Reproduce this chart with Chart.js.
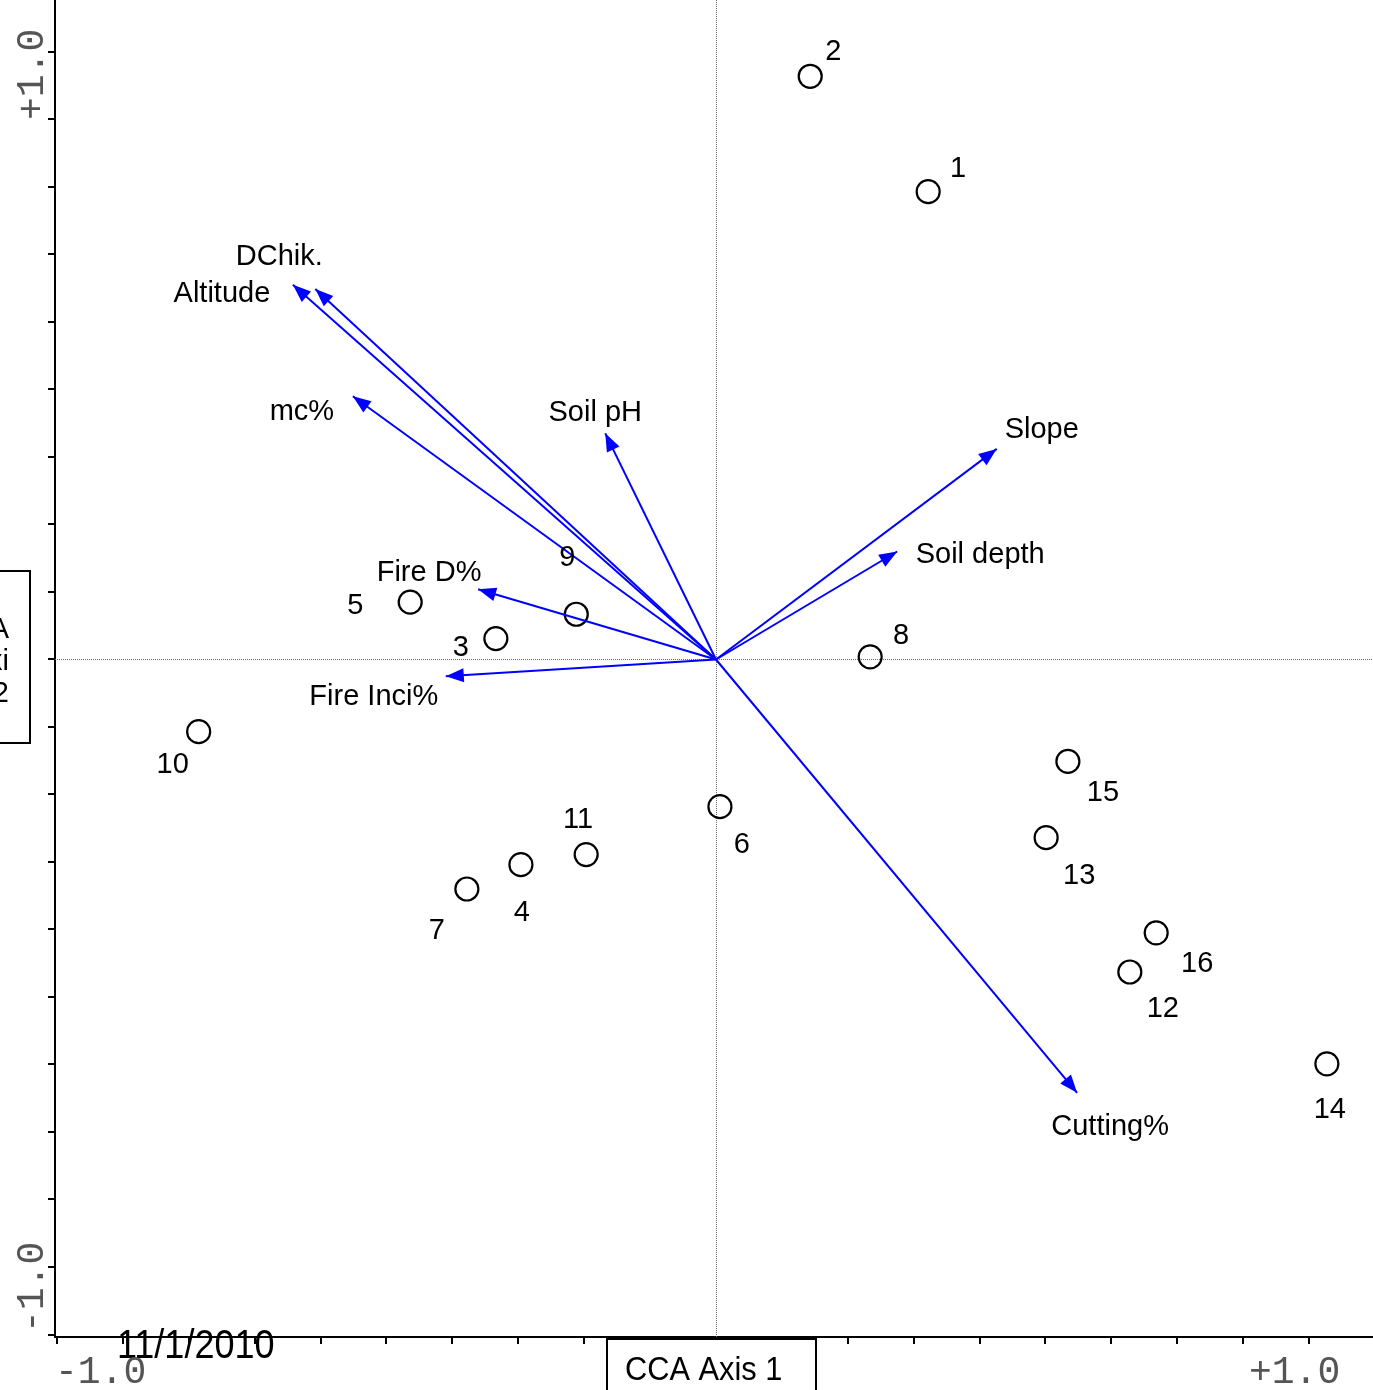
<!DOCTYPE html>
<html>
<head>
<meta charset="utf-8">
<script src="https://cdn.jsdelivr.net/npm/chart.js@4.4.0/dist/chart.umd.min.js"></script>
<style>
  html, body { margin: 0; padding: 0; background: #fff; }
  #wrap { width: 1373px; height: 1390px; position: relative; }
</style>
</head>
<body>
<div id="wrap"><canvas id="c"></canvas></div>
<script>
// ---- Data ----
const siteLabels = ['1','2','3','4','5','6','7','8','9','10','11','12','13','14','15','16'];
const siteX = [0.322, 0.143, -0.334, -0.296, -0.464, 0.006, -0.378, 0.234, -0.212, -0.785, -0.197, 0.628, 0.501, 0.927, 0.534, 0.668];
const siteY = [0.693, 0.864, 0.031, -0.304, 0.085, -0.218, -0.340, 0.004, 0.067, -0.107, -0.289, -0.463, -0.264, -0.599, -0.151, -0.405];

const envNames = ['Altitude', 'DChik.', 'mc%', 'Soil pH', 'Slope', 'Soil depth', 'Fire D%', 'Fire Inci%', 'Cutting%'];
const envX = [-0.642, -0.608, -0.551, -0.168, 0.426, 0.275, -0.361, -0.410, 0.548];
const envY = [0.555, 0.549, 0.390, 0.335, 0.312, 0.160, 0.104, -0.025, -0.642];

const tickValues = [-1.0, -0.9, -0.8, -0.7, -0.6, -0.5, -0.4, -0.3, -0.2, -0.1, 0, 0.1, 0.2, 0.3, 0.4, 0.5, 0.6, 0.7, 0.8, 0.9, 1.0];
const axisTitleX = 'CCA Axis 1';
const axisTitleY = ['CCA', 'Axi', 's 2'];
const axisEndLabels = ['-1.0', '+1.0'];
const dateText = '11/1/2010';

// ---- Layout (label placement, pixels) ----
const siteLabelOffset = [[30,-23],[23,-24],[-35,9],[1,48],[-55,4],[22,38],[-30,42],[31,-21],[-9,-56],[-26,33],[-8,-35],[33,37],[33,38],[3,46],[35,32],[41,31]];
const envLabelOffset = [[-71,9],[-36,-32],[-51,16],[-10,-20],[45,-19],[83,4],[-49,-16],[-72,21],[33,34]];

const X_MIN = -1.003, X_MAX = 0.997;
const Y_MIN = -1.0037, Y_MAX = 0.977;
const BLUE = '#0000ff';

const datasets = [];
envNames.forEach((n, i) => {
  datasets.push({
    type: 'line',
    label: n,
    data: [{x: 0, y: 0}, {x: envX[i], y: envY[i]}],
    borderColor: BLUE,
    borderWidth: 2,
    pointRadius: 0,
    fill: false,
    tension: 0
  });
});
datasets.push({
  type: 'scatter',
  label: 'sites',
  data: siteX.map((x, i) => ({x: x, y: siteY[i]})),
  pointRadius: 11.5,
  pointHoverRadius: 11.5,
  borderColor: '#000',
  borderWidth: 2.2,
  backgroundColor: 'rgba(0,0,0,0)'
});

function setTicks(scale) {
  scale.ticks = tickValues.filter(v => v >= scale.min && v <= scale.max).map(v => ({value: v}));
}

const overlay = {
  id: 'overlay',
  beforeDatasetsDraw(chart) {
    const {ctx, chartArea: a, scales: {x, y}} = chart;
    const x0 = Math.round(x.getPixelForValue(0)) + 0.5;
    const y0 = Math.round(y.getPixelForValue(0)) + 0.5;
    ctx.save();
    ctx.strokeStyle = '#666';
    ctx.lineWidth = 1;
    ctx.setLineDash([1, 1]);
    ctx.beginPath();
    ctx.moveTo(x0, a.top); ctx.lineTo(x0, a.bottom);
    ctx.moveTo(a.left, y0); ctx.lineTo(a.right, y0);
    ctx.stroke();
    ctx.restore();
    // tick marks (from the library's ticks)
    ctx.save();
    ctx.strokeStyle = '#000';
    ctx.lineWidth = 2;
    ctx.beginPath();
    x.ticks.forEach(t => {
      const px = Math.round(x.getPixelForValue(t.value));
      ctx.moveTo(px, a.bottom); ctx.lineTo(px, a.bottom + 7);
    });
    y.ticks.forEach(t => {
      const py = Math.round(y.getPixelForValue(t.value));
      ctx.moveTo(a.left, py); ctx.lineTo(a.left - 7, py);
    });
    ctx.stroke();
    ctx.restore();
  },
  afterDatasetsDraw(chart) {
    const {ctx, scales: {x, y}} = chart;
    const ox = x.getPixelForValue(0), oy = y.getPixelForValue(0);
    ctx.save();
    // arrow heads
    ctx.fillStyle = BLUE;
    envNames.forEach((n, i) => {
      const tx = x.getPixelForValue(envX[i]), ty = y.getPixelForValue(envY[i]);
      const ang = Math.atan2(ty - oy, tx - ox);
      const L = 18, W = 7;
      const bx = tx - L * Math.cos(ang), by = ty - L * Math.sin(ang);
      ctx.beginPath();
      ctx.moveTo(tx, ty);
      ctx.lineTo(bx - W * Math.sin(ang), by + W * Math.cos(ang));
      ctx.lineTo(bx + W * Math.sin(ang), by - W * Math.cos(ang));
      ctx.closePath();
      ctx.fill();
    });
    // labels
    ctx.fillStyle = '#000';
    ctx.font = '29px "Liberation Sans", Arial, sans-serif';
    ctx.textAlign = 'center';
    ctx.textBaseline = 'middle';
    envNames.forEach((n, i) => {
      const tx = x.getPixelForValue(envX[i]), ty = y.getPixelForValue(envY[i]);
      ctx.fillText(n, tx + envLabelOffset[i][0], ty + envLabelOffset[i][1]);
    });
    siteLabels.forEach((n, i) => {
      const px = x.getPixelForValue(siteX[i]), py = y.getPixelForValue(siteY[i]);
      ctx.fillText(n, px + siteLabelOffset[i][0], py + siteLabelOffset[i][1]);
    });
    ctx.restore();
  },
  afterDraw(chart) {
    const {ctx, chartArea: a} = chart;
    ctx.save();
    // bottom axis title box
    ctx.fillStyle = '#fff';
    ctx.fillRect(607, a.bottom + 2, 208, 60);
    ctx.strokeStyle = '#000';
    ctx.lineWidth = 2;
    ctx.strokeRect(607, a.bottom + 2, 209, 70);
    ctx.fillStyle = '#000';
    ctx.font = '34px "Liberation Sans", Arial, sans-serif';
    ctx.textAlign = 'left';
    ctx.textBaseline = 'alphabetic';
    ctx.save();
    ctx.translate(625, 1380);
    ctx.scale(0.905, 1);
    ctx.fillText(axisTitleX, 0, 0);
    ctx.restore();
    // left axis title box (partly off-canvas)
    ctx.strokeRect(-20, 571, 50, 172);
    ctx.font = '29px "Liberation Sans", Arial, sans-serif';
    ctx.textAlign = 'right';
    axisTitleY.forEach((t, i) => ctx.fillText(t, 9, 638 + i * 32));
    // date
    ctx.textAlign = 'left';
    ctx.font = '40px "Liberation Sans", Arial, sans-serif';
    ctx.save();
    ctx.translate(117, 1358);
    ctx.scale(0.9, 1);
    ctx.fillText(dateText, 0, 0);
    ctx.restore();
    // axis end labels
    ctx.fillStyle = '#555';
    ctx.font = '38px "Liberation Mono", "DejaVu Sans Mono", monospace';
    ctx.textAlign = 'left';
    ctx.fillText(axisEndLabels[0], 55, 1383);
    ctx.fillText(axisEndLabels[1], 1249, 1383);
    ctx.save();
    ctx.translate(43, 120);
    ctx.rotate(-Math.PI / 2);
    ctx.fillText(axisEndLabels[1], 0, 0);
    ctx.restore();
    ctx.save();
    ctx.translate(43, 1333);
    ctx.rotate(-Math.PI / 2);
    ctx.fillText(axisEndLabels[0], 0, 0);
    ctx.restore();
    ctx.restore();
  }
};

new Chart(document.getElementById('c'), {
  data: { datasets: datasets },
  options: {
    responsive: true,
    maintainAspectRatio: false,
    animation: false,
    devicePixelRatio: 1,
    layout: { padding: 0, autoPadding: false },
    plugins: { legend: { display: false }, tooltip: { enabled: false } },
    scales: {
      x: {
        type: 'linear', position: 'bottom',
        min: X_MIN, max: X_MAX,
        ticks: { display: false },
        grid: { display: false },
        border: { display: true, color: '#000', width: 2 },
        afterBuildTicks: setTicks,
        afterFit: s => { s.height = 53; }
      },
      y: {
        type: 'linear', position: 'left',
        min: Y_MIN, max: Y_MAX,
        ticks: { display: false },
        grid: { display: false },
        border: { display: true, color: '#000', width: 2 },
        afterBuildTicks: setTicks,
        afterFit: s => { s.width = 55; }
      }
    }
  },
  plugins: [overlay]
});
</script>
</body>
</html>
